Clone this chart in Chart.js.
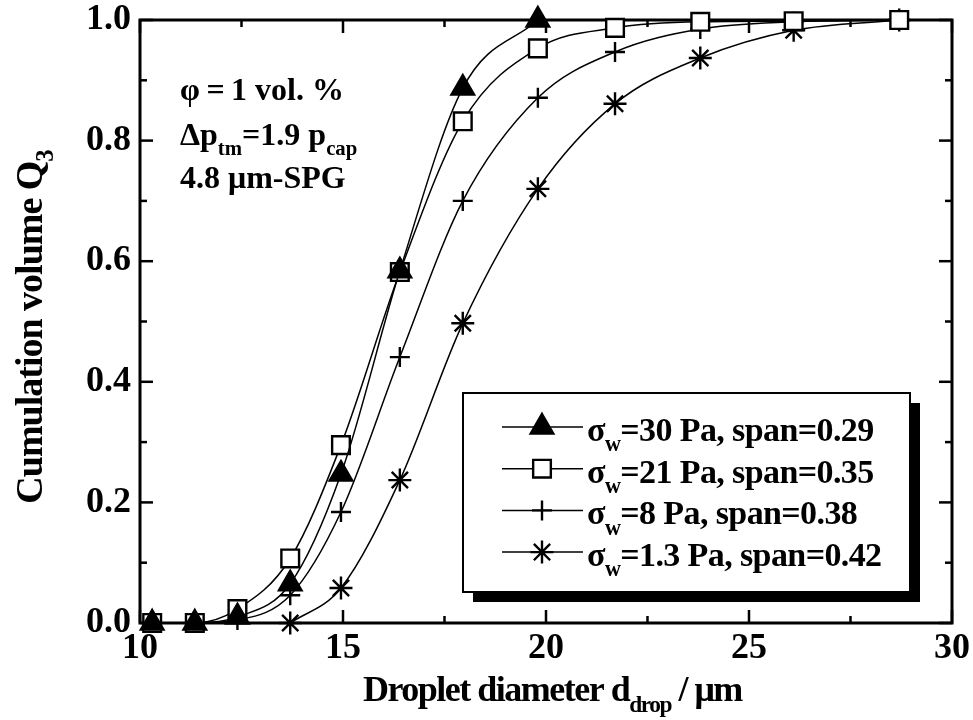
<!DOCTYPE html>
<html>
<head>
<meta charset="utf-8">
<script src="https://cdn.jsdelivr.net/npm/chart.js@4"></script>
<style>
  html, body { margin: 0; padding: 0; background: #fff; }
  #wrap { width: 973px; height: 720px; }
</style>
</head>
<body>
<div id="wrap"><canvas id="chart" width="973" height="720"></canvas></div>
<script>
// droplet diameters (µm) where the cumulative volume was read
const diameters = [10.3, 11.35, 12.4, 13.7, 14.95, 16.4, 17.95, 19.8, 21.7, 23.8, 26.1, 28.7];
// cumulative volume Q3 per wall shear stress
const q3Sigma30 = [0, 0, 0.01, 0.065, 0.247, 0.584, 0.887, 1.0, null, null, null, null];
const q3Sigma21 = [0, 0, 0.023, 0.107, 0.295, 0.582, 0.832, 0.953, 0.987, 0.997, 0.998, 1.0];
const q3Sigma8 = [null, 0, 0.005, 0.046, 0.184, 0.441, 0.70, 0.871, 0.947, 0.985, 0.997, 1.0];
const q3Sigma1_3 = [null, null, null, 0, 0.058, 0.237, 0.497, 0.72, 0.861, 0.937, 0.983, 1.0];

const legendTexts = ['=30 Pa, span=0.29', '=21 Pa, span=0.35', '=8 Pa, span=0.38', '=1.3 Pa, span=0.42'];
const xMajorTicks = [10, 15, 20, 25, 30];
const xMinorTicks = [12.5, 17.5, 22.5, 27.5];
const yMajorTicks = [0, 0.2, 0.4, 0.6, 0.8, 1.0];
const yMinorTicks = [0.1, 0.3, 0.5, 0.7, 0.9];

const FONT = '"Liberation Serif", "Times New Roman", serif';

function toPoints(ys) {
    const pts = [];
    ys.forEach((y, i) => {
        if (y !== null) pts.push({ x: diameters[i], y: y });
    });
    return pts;
}

const seriesStyles = [
    { data: q3Sigma30, pointStyle: 'triangle', radius: 13, fill: '#000' },
    { data: q3Sigma21, pointStyle: 'rect', radius: 12.5, fill: '#fff' },
    { data: q3Sigma8, pointStyle: 'cross', radius: 10, fill: '#fff' },
    { data: q3Sigma1_3, pointStyle: 'star', radius: 11.5, fill: '#fff' },
];

const datasets = seriesStyles.map((s, i) => ({
    label: legendTexts[i],
    data: toPoints(s.data),
    showLine: true,
    borderColor: '#000',
    borderWidth: 1.5,
    cubicInterpolationMode: 'monotone',
    pointStyle: s.pointStyle,
    pointRadius: s.radius,
    pointBackgroundColor: s.fill,
    pointBorderColor: '#000',
    pointBorderWidth: 2.4,
    clip: false,
}));

// draws text made of normal and subscript pieces, returns end x
function drawParts(ctx, x, y, parts, size) {
    parts.forEach(p => {
        const sz = p.sub ? size * 0.65 : size;
        ctx.font = 'bold ' + sz + 'px ' + FONT;
        ctx.fillText(p.t, x, y + (p.sub ? size * 0.3 : 0));
        x += ctx.measureText(p.t).width;
    });
    return x;
}
function partsWidth(ctx, parts, size) {
    let w = 0;
    parts.forEach(p => {
        const sz = p.sub ? size * 0.65 : size;
        ctx.font = 'bold ' + sz + 'px ' + FONT;
        w += ctx.measureText(p.t).width;
    });
    return w;
}

const framePlugin = {
    id: 'frame',
    beforeDatasetsDraw(chart) {
        const ctx = chart.ctx;
        const a = chart.chartArea;
        const xs = chart.scales.x, ys = chart.scales.y;
        ctx.save();
        ctx.strokeStyle = '#000';
        ctx.lineWidth = 2.5;
        const tick = (x1, y1, x2, y2) => { ctx.beginPath(); ctx.moveTo(x1, y1); ctx.lineTo(x2, y2); ctx.stroke(); };
        xMajorTicks.concat(xMinorTicks).forEach(v => {
            const len = xMajorTicks.includes(v) ? 13 : 7;
            const px = xs.getPixelForValue(v);
            tick(px, a.bottom, px, a.bottom - len);
            tick(px, a.top, px, a.top + len);
        });
        yMajorTicks.concat(yMinorTicks).forEach(v => {
            const len = yMajorTicks.includes(v) ? 13 : 7;
            const py = ys.getPixelForValue(v);
            tick(a.left, py, a.left + len, py);
            tick(a.right, py, a.right - len, py);
        });
        ctx.lineWidth = 3;
        ctx.strokeRect(a.left, a.top, a.right - a.left, a.bottom - a.top);
        ctx.restore();
    },
    afterDraw(chart) {
        const ctx = chart.ctx;
        ctx.save();
        ctx.fillStyle = '#000';
        ctx.textBaseline = 'alphabetic';
        ctx.textAlign = 'left';

        // annotation
        ctx.letterSpacing = '0px';
        drawParts(ctx, 180, 100, [{ t: 'φ\u2009=\u20091 vol. %' }], 32);
        drawParts(ctx, 180, 145, [{ t: 'Δp' }, { t: 'tm', sub: true }, { t: '=1.9 p' }, { t: 'cap', sub: true }], 32);
        drawParts(ctx, 180, 188, [{ t: '4.8 μm-SPG' }], 32);

        // legend box with shadow
        const bx = 463, by = 393, bw = 447, bh = 199;
        ctx.fillStyle = '#000';
        ctx.fillRect(bx + 10, by + 10, bw, bh);
        ctx.fillStyle = '#fff';
        ctx.fillRect(bx, by, bw, bh);
        ctx.strokeStyle = '#000';
        ctx.lineWidth = 2;
        ctx.strokeRect(bx, by, bw, bh);
        seriesStyles.forEach((s, i) => {
            const ly = 427 + 41.7 * i;
            ctx.strokeStyle = '#000';
            ctx.lineWidth = 1.5;
            ctx.beginPath(); ctx.moveTo(502, ly); ctx.lineTo(583, ly); ctx.stroke();
            ctx.fillStyle = s.fill;
            ctx.lineWidth = 2.4;
            Chart.helpers.drawPoint(ctx, { pointStyle: s.pointStyle, radius: s.radius, borderWidth: 2.4, rotation: 0 }, 542, ly);
            ctx.fillStyle = '#000';
            ctx.letterSpacing = '-0.6px';
            drawParts(ctx, 587, ly + 14, [{ t: 'σ' }, { t: 'w', sub: true }, { t: legendTexts[i] }], 34);
        });

        // axis titles
        ctx.letterSpacing = '-1.5px';
        drawParts(ctx, 363, 701, [{ t: 'Droplet diameter d' }, { t: 'drop', sub: true }, { t: ' / μm' }], 36);
        ctx.letterSpacing = '-1px';
        const yParts = [{ t: 'Cumulation volume Q' }, { t: '3', sub: true }];
        const w = partsWidth(ctx, yParts, 38);
        ctx.translate(42, 327);
        ctx.rotate(-Math.PI / 2);
        drawParts(ctx, -w / 2, 0, yParts, 38);
        ctx.restore();
    }
};

const tickFont = { family: FONT, weight: 'bold', size: 36 };

new Chart(document.getElementById('chart'), {
    type: 'scatter',
    data: { datasets: datasets },
    options: {
        responsive: false,
        animation: false,
        layout: { padding: { top: 20, right: 21, left: 0, bottom: 0 } },
        plugins: { legend: { display: false }, tooltip: { enabled: false } },
        scales: {
            x: {
                type: 'linear', min: 10, max: 30,
                grid: { display: false, drawTicks: false },
                border: { display: false },
                ticks: { stepSize: 5, color: '#000', font: tickFont, padding: 4, maxRotation: 0 },
                afterFit(scale) {
                    scale.height = 97;
                    scale.paddingLeft = 0; scale.paddingRight = 0;
                },
            },
            y: {
                type: 'linear', min: 0, max: 1,
                grid: { display: false, drawTicks: false },
                border: { display: false },
                ticks: { stepSize: 0.2, color: '#000', font: tickFont, padding: 9, callback: v => v.toFixed(1) },
                afterFit(scale) {
                    scale.width = 140;
                    scale.paddingTop = 0; scale.paddingBottom = 0;
                },
            },
        },
    },
    plugins: [framePlugin],
});
</script>
</body>
</html>
